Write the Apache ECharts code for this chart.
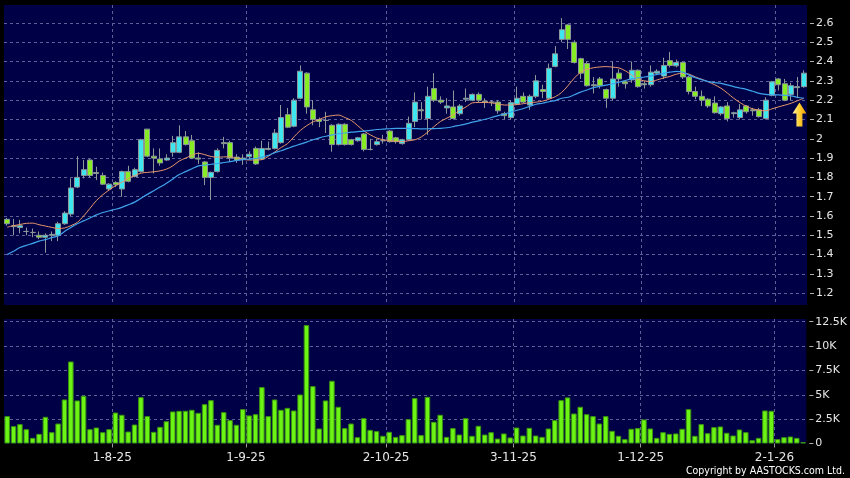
<!DOCTYPE html>
<html><head><meta charset="utf-8">
<script src="https://cdn.jsdelivr.net/npm/echarts@6/dist/echarts.min.js"></script>
<style>html,body{margin:0;padding:0;background:#000;}#c{width:850px;height:478px;}</style>
</head><body><div id="c"></div>
<script>
const dates = [
'9-7-25','10-7-25','11-7-25','14-7-25','15-7-25','16-7-25','17-7-25','18-7-25','21-7-25','22-7-25','23-7-25','24-7-25','25-7-25','28-7-25','29-7-25','30-7-25','31-7-25',
'1-8-25','4-8-25','5-8-25','6-8-25','7-8-25','8-8-25','11-8-25','12-8-25','13-8-25','14-8-25','15-8-25','18-8-25','19-8-25','20-8-25','21-8-25','22-8-25','25-8-25','26-8-25','27-8-25','28-8-25','29-8-25',
'1-9-25','2-9-25','3-9-25','4-9-25','5-9-25','8-9-25','9-9-25','10-9-25','11-9-25','12-9-25','15-9-25','16-9-25','17-9-25','18-9-25','19-9-25','22-9-25','23-9-25','24-9-25','25-9-25','26-9-25','29-9-25','30-9-25',
'2-10-25','3-10-25','6-10-25','8-10-25','9-10-25','10-10-25','13-10-25','14-10-25','15-10-25','16-10-25','17-10-25','20-10-25','21-10-25','22-10-25','23-10-25','24-10-25','27-10-25','28-10-25','30-10-25','31-10-25',
'3-11-25','4-11-25','5-11-25','6-11-25','7-11-25','10-11-25','11-11-25','12-11-25','13-11-25','14-11-25','17-11-25','18-11-25','19-11-25','20-11-25','21-11-25','24-11-25','25-11-25','26-11-25','27-11-25','28-11-25',
'1-12-25','2-12-25','3-12-25','4-12-25','5-12-25','8-12-25','9-12-25','10-12-25','11-12-25','12-12-25','15-12-25','16-12-25','17-12-25','18-12-25','19-12-25','22-12-25','23-12-25','24-12-25','29-12-25','30-12-25','31-12-25',
'2-1-26','5-1-26','6-1-26','7-1-26','8-1-26'];

const tickLabels = ['1-8-25','1-9-25','2-10-25','3-11-25','1-12-25','2-1-26'];

// [open, close, low, high]
const ohlc = [
[1.583,1.56,1.55,1.59],[1.55,1.545,1.50,1.585],[1.54,1.55,1.51,1.58],[1.52,1.52,1.50,1.54],[1.515,1.515,1.49,1.535],
[1.50,1.49,1.48,1.52],[1.49,1.50,1.41,1.51],[1.50,1.505,1.47,1.52],[1.50,1.56,1.47,1.57],[1.56,1.615,1.555,1.625],
[1.61,1.745,1.60,1.795],[1.75,1.80,1.745,1.91],[1.81,1.84,1.795,1.89],[1.89,1.81,1.80,1.895],[1.825,1.82,1.786,1.855],
[1.81,1.765,1.76,1.825],[1.74,1.765,1.73,1.77],[1.773,1.762,1.75,1.78],[1.74,1.83,1.70,1.835],[1.83,1.78,1.775,1.86],
[1.805,1.84,1.80,1.85],[1.83,1.995,1.825,2.0],[2.05,1.91,1.905,2.05],[1.91,1.90,1.82,1.95],[1.895,1.875,1.86,1.95],
[1.89,1.90,1.885,1.92],[1.93,1.98,1.907,2.015],[1.93,2.01,1.925,2.07],[2.01,1.97,1.965,2.04],[1.99,1.90,1.895,2.02],
[1.90,1.895,1.87,1.93],[1.88,1.80,1.76,1.885],[1.80,1.826,1.683,1.83],[1.83,1.94,1.825,1.95],[1.98,1.975,1.95,2.01],
[1.98,1.90,1.88,1.99],[1.905,1.89,1.875,1.92],[1.895,1.90,1.865,1.92],[1.907,1.92,1.89,1.935],[1.95,1.87,1.865,1.96],
[1.895,1.95,1.89,1.99],[1.945,1.95,1.94,1.985],[1.95,2.03,1.945,2.05],[1.98,2.11,1.975,2.175],[2.125,2.06,2.055,2.16],
[2.065,2.20,2.06,2.21],[2.21,2.35,2.205,2.38],[2.34,2.165,2.13,2.345],[2.15,2.10,2.07,2.20],[2.10,2.09,2.06,2.11],
[2.095,2.095,2.03,2.14],[2.07,1.97,1.933,2.075],[1.97,2.075,1.965,2.08],[2.075,1.97,1.965,2.08],[1.995,1.97,1.965,2.0],
[1.99,2.005,1.985,2.01],[2.025,1.945,1.935,2.03],[1.945,1.945,1.94,2.0],[1.97,1.985,1.965,2.0],[1.99,1.99,1.975,2.02],
[2.04,1.985,1.98,2.045],[2.005,1.985,1.975,2.01],[1.975,1.995,1.97,2.0],[1.995,2.08,1.99,2.115],[2.09,2.19,2.06,2.24],
[2.15,2.145,2.10,2.19],[2.105,2.22,2.02,2.27],[2.26,2.20,2.19,2.34],[2.20,2.19,2.18,2.22],[2.16,2.17,2.13,2.21],
[2.165,2.105,2.10,2.25],[2.13,2.17,2.12,2.18],[2.205,2.21,2.19,2.26],[2.20,2.23,2.195,2.235],[2.23,2.20,2.19,2.24],
[2.195,2.19,2.16,2.21],[2.19,2.19,2.17,2.20],[2.19,2.145,2.13,2.20],[2.13,2.12,2.10,2.14],[2.11,2.187,2.10,2.20],
[2.18,2.21,2.175,2.27],[2.22,2.19,2.185,2.24],[2.175,2.22,2.15,2.23],[2.22,2.30,2.21,2.33],[2.255,2.245,2.21,2.28],
[2.21,2.365,2.205,2.39],[2.375,2.44,2.37,2.48],[2.515,2.565,2.50,2.625],[2.59,2.515,2.465,2.595],[2.50,2.395,2.39,2.51],
[2.415,2.34,2.31,2.42],[2.39,2.275,2.27,2.40],[2.28,2.275,2.235,2.32],[2.31,2.275,2.26,2.32],[2.255,2.21,2.16,2.26],
[2.21,2.31,2.20,2.40],[2.34,2.31,2.27,2.36],[2.295,2.285,2.26,2.30],[2.305,2.355,2.29,2.40],[2.355,2.27,2.265,2.36],
[2.285,2.28,2.26,2.30],[2.28,2.345,2.27,2.38],[2.34,2.35,2.33,2.36],[2.325,2.38,2.31,2.42],[2.405,2.38,2.37,2.45],
[2.378,2.395,2.37,2.41],[2.395,2.32,2.31,2.40],[2.32,2.245,2.23,2.325],[2.245,2.22,2.205,2.27],[2.22,2.20,2.17,2.25],
[2.205,2.17,2.16,2.21],[2.185,2.135,2.13,2.22],[2.13,2.165,2.12,2.17],[2.17,2.105,2.09,2.19],[2.13,2.135,2.11,2.14],
[2.11,2.15,2.10,2.18],[2.17,2.14,2.13,2.175],[2.15,2.145,2.12,2.16],[2.15,2.115,2.11,2.16],[2.105,2.20,2.10,2.215],
[2.225,2.295,2.22,2.30],[2.31,2.28,2.25,2.315],[2.285,2.20,2.195,2.31],[2.23,2.275,2.20,2.29],[2.265,2.27,2.21,2.32],
[2.27,2.34,2.265,2.355]];

// volume in thousands
const volumeK = [
2.81,1.78,1.99,1.47,0.58,0.99,2.74,1.16,2.05,4.52,
8.42,4.42,4.90,1.47,1.64,1.16,1.47,3.18,2.95,1.23,
1.95,4.76,2.81,1.20,1.71,2.29,3.29,3.36,3.36,3.46,
3.15,4.04,4.45,1.92,3.22,2.40,1.92,3.53,2.88,3.01,
5.79,2.81,4.52,3.46,3.66,3.39,5.03,12.16,5.89,1.54,
4.42,6.44,3.77,1.58,2.05,0.65,2.60,1.40,1.27,0.79,
1.20,0.68,0.86,2.50,4.66,0.86,4.79,2.23,2.95,0.68,
1.58,0.92,2.60,0.79,1.82,0.92,1.16,0.51,1.03,0.62,
1.64,0.82,1.61,0.82,0.68,1.54,2.40,4.45,4.73,3.08,
3.77,3.01,2.81,2.05,2.81,1.30,0.79,0.45,1.51,1.58,
2.47,1.54,0.58,1.16,0.99,1.03,1.51,3.53,0.79,1.99,
1.06,1.68,1.75,1.10,0.82,1.44,1.16,0.34,0.58,3.39,
3.36,0.45,0.65,0.72,0.58,0.14];

const maShort = [
1.542,1.55,1.556,1.562,1.563,1.555,1.548,1.541,1.535,1.538,
1.55,1.567,1.60,1.64,1.68,1.71,1.735,1.757,1.775,1.795,
1.81,1.822,1.826,1.829,1.834,1.843,1.86,1.885,1.90,1.915,
1.925,1.918,1.908,1.905,1.906,1.907,1.90,1.893,1.89,1.89,
1.892,1.91,1.932,1.955,1.975,2.01,2.043,2.068,2.088,2.10,
2.114,2.12,2.123,2.11,2.095,2.068,2.04,2.02,2.004,1.995,
1.99,1.987,1.985,1.99,
1.995,2.01,2.035,2.064,2.09,2.107,2.125,2.147,2.165,2.186,
2.188,2.188,2.186,2.18,2.175,2.175,2.177,2.182,2.187,2.19,
2.195,2.205,2.218,2.24,2.275,2.315,2.345,2.36,2.368,2.372,
2.374,2.371,2.367,2.352,2.33,2.308,2.30,2.297,2.305,2.315,
2.323,2.335,2.339,2.335,2.32,2.308,2.295,2.28,2.262,2.237,
2.21,2.187,2.168,2.155,2.148,2.145,2.155,2.165,2.174,2.184,
2.197,2.21];

const maLong = [
1.40,1.417,1.437,1.448,1.458,1.47,1.478,1.488,1.497,1.52,
1.54,1.56,1.575,1.59,1.606,1.618,1.627,1.635,1.645,1.658,
1.672,1.692,1.712,1.731,1.75,1.77,1.792,1.815,1.83,1.845,
1.86,1.863,1.868,1.872,1.877,1.882,1.888,1.892,1.895,1.898,
1.905,1.915,1.928,1.938,1.95,1.962,1.972,1.983,1.995,2.005,
2.013,2.02,2.026,2.03,2.034,2.037,2.04,2.044,2.048,2.05,
2.052,2.054,2.054,2.054,
2.053,2.051,2.052,2.053,2.054,2.057,2.063,2.07,2.077,2.086,
2.093,2.101,2.11,2.12,2.128,2.138,2.148,2.157,2.168,2.179,
2.184,2.192,2.198,2.21,2.215,2.228,2.242,2.253,2.265,2.272,
2.278,2.285,2.293,2.302,2.31,2.316,2.32,2.326,2.333,2.339,
2.345,2.349,2.345,2.33,2.316,2.306,2.296,2.291,2.287,2.279,
2.27,2.263,2.256,2.246,2.235,2.23,2.228,2.227,2.225,2.222,
2.215,2.21];

const chart = echarts.init(document.getElementById('c'), null, {renderer: 'canvas'});
const boundaryCats = dates.concat(['']);
const isTick = (i, v) => tickLabels.indexOf(v) >= 0;
const gridLineStyle = {color: '#5e5e98', type: [3, 3], width: 1};
const txt = '#e6e6e6';
const font = '"DejaVu Sans", Verdana, sans-serif';

const hiddenCat = (gi) => ({
  type: 'category', gridIndex: gi, data: dates, boundaryGap: true, show: false, position: 'bottom'
});

const option = {
  backgroundColor: '#000',
  animation: false,
  grid: [
    {left: 4, right: 43, top: 5, height: 300, show: true, backgroundColor: '#000046', borderWidth: 0},
    {left: 4, right: 43, top: 319, height: 124.5, show: true, backgroundColor: '#000046', borderWidth: 0}
  ],
  xAxis: [
    hiddenCat(0),
    hiddenCat(1),
    {type: 'category', gridIndex: 0, data: boundaryCats, boundaryGap: false, position: 'bottom',
     axisLine: {show: false}, axisTick: {show: false}, axisLabel: {show: false},
     splitLine: {show: true, interval: isTick, lineStyle: gridLineStyle}},
    {type: 'category', gridIndex: 1, data: boundaryCats, boundaryGap: false, position: 'bottom',
     axisLine: {show: false},
     axisTick: {show: true, interval: isTick, length: 4, lineStyle: {color: '#9a9a9a'}},
     axisLabel: {show: true, interval: isTick, color: txt, fontSize: 12, fontFamily: font, margin: 8},
     splitLine: {show: true, interval: isTick, lineStyle: gridLineStyle}}
  ],
  yAxis: [
    {type: 'value', gridIndex: 0, position: 'right', min: 1.139, max: 2.693, minInterval: 0.1, maxInterval: 0.1,
     offset: 3, axisLine: {show: false},
     axisTick: {show: true, length: 4, lineStyle: {color: '#b0b0b0'}},
     axisLabel: {color: txt, fontSize: 11, fontFamily: font, margin: 6, showMinLabel: false, showMaxLabel: false},
     splitLine: {show: true, showMinLine: false, showMaxLine: false, lineStyle: gridLineStyle}},
    {type: 'value', gridIndex: 1, position: 'right', min: 0, max: 12.78, minInterval: 2.5, maxInterval: 2.5,
     offset: 3, axisLine: {show: false},
     axisTick: {show: true, length: 4, lineStyle: {color: '#b0b0b0'}},
     axisLabel: {color: txt, fontSize: 11, fontFamily: font, margin: 6, showMaxLabel: false,
       formatter: v => v === 0 ? '0' : (v + 'K')},
     splitLine: {show: true, showMinLine: false, showMaxLine: false, lineStyle: gridLineStyle}}
  ],
  series: [
    {type: 'candlestick', xAxisIndex: 0, yAxisIndex: 0, data: ohlc, barWidth: 5.5,
     itemStyle: {color: '#3ee6f0', color0: '#86ec24', borderColor: '#8d9799', borderColor0: '#8d9799', borderWidth: 1},
     markPoint: {
       silent: true,
       data: [{
         coord: [dates[124], 2.126],
         symbol: 'path://M7,0 L14,11 L10,11 L10,24 L4,24 L4,11 L0,11 Z',
         symbolSize: [14, 24], symbolKeepAspect: false, symbolOffset: [2, 0],
         itemStyle: {color: new echarts.graphic.LinearGradient(0, 0, 1, 0, [
           {offset: 0, color: '#fff3a8'}, {offset: 0.5, color: '#ffcf30'}, {offset: 1, color: '#e79a00'}])},
         label: {show: false}
       }]
     }},
    {type: 'line', xAxisIndex: 0, yAxisIndex: 0, data: maShort, smooth: 0.3, symbol: 'none',
     lineStyle: {color: '#e8976a', width: 1}},
    {type: 'line', xAxisIndex: 0, yAxisIndex: 0, data: maLong, smooth: 0.3, symbol: 'none',
     lineStyle: {color: '#3fa2ea', width: 1.2}},
    {type: 'bar', xAxisIndex: 1, yAxisIndex: 1, data: volumeK, barWidth: 5.5,
     itemStyle: {color: '#6cf414', borderColor: '#3b9410', borderWidth: 1}}
  ],
  graphic: [
    {type: 'text', right: 5, top: 466,
     style: {text: 'Copyright by AASTOCKS.com Ltd.', fill: '#ffffff',
       font: '10.5px "DejaVu Sans Condensed", "DejaVu Sans", sans-serif'}}
  ]
};
chart.setOption(option);
</script>
</body></html>
